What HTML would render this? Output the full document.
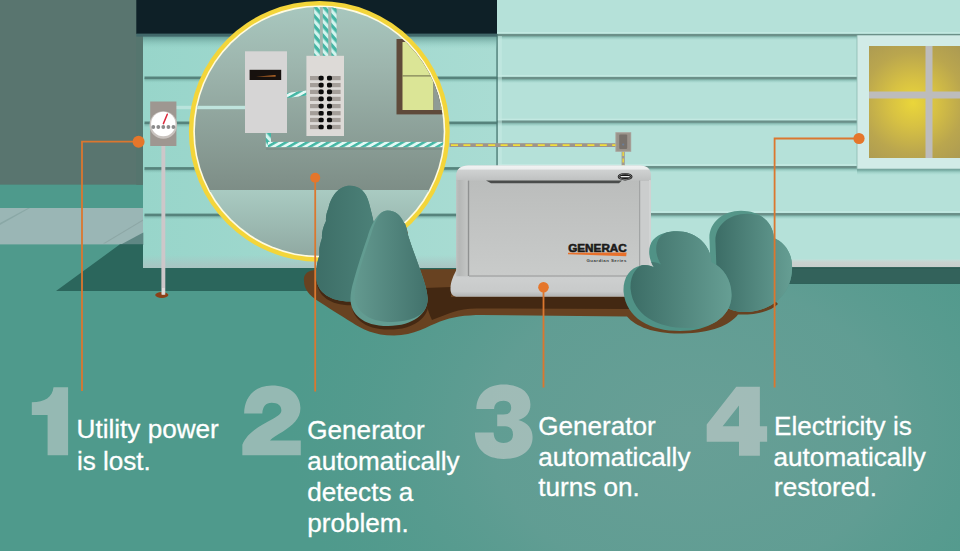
<!DOCTYPE html>
<html>
<head>
<meta charset="utf-8">
<title>How a home standby generator works</title>
<style>
html,body{margin:0;padding:0;background:#4f9a8c;}
body{width:960px;height:551px;overflow:hidden;font-family:"Liberation Sans",sans-serif;}
svg{display:block;}
.t{font-family:"Liberation Sans",sans-serif;font-size:26.1px;fill:#ffffff;stroke:#ffffff;stroke-width:0.3px;}
.n{fill:#ebdfe3;fill-opacity:0.45;}
</style>
</head>
<body>
<svg width="960" height="551" viewBox="0 0 960 551">
<defs>
  <linearGradient id="sideShadow" x1="0" y1="0" x2="0" y2="1">
    <stop offset="0" stop-color="#5f8f88" stop-opacity="0.95"/>
    <stop offset="0.3" stop-color="#6fa59c" stop-opacity="0.6"/>
    <stop offset="1" stop-color="#8fcfc4" stop-opacity="0"/>
  </linearGradient>
  <linearGradient id="wallL" x1="0" y1="0" x2="1" y2="0">
    <stop offset="0" stop-color="#98d5ca"/>
    <stop offset="1" stop-color="#a9dcd3"/>
  </linearGradient>
  <radialGradient id="grassHi" cx="0" cy="0" r="1" gradientUnits="userSpaceOnUse" gradientTransform="translate(690 430) scale(400 300)">
    <stop offset="0" stop-color="#689f96" stop-opacity="1"/>
    <stop offset="0.5" stop-color="#659e95" stop-opacity="0.8"/>
    <stop offset="1" stop-color="#5a9a8f" stop-opacity="0"/>
  </radialGradient>
  <linearGradient id="circBg" x1="0" y1="0" x2="0" y2="1">
    <stop offset="0" stop-color="#a9c9c0"/>
    <stop offset="0.35" stop-color="#9db5ad"/>
    <stop offset="1" stop-color="#7d8d86"/>
  </linearGradient>
  <linearGradient id="circFloor" x1="0" y1="0" x2="0" y2="1">
    <stop offset="0" stop-color="#a9cbc2"/>
    <stop offset="1" stop-color="#8ea69f"/>
  </linearGradient>
  <radialGradient id="glass" cx="913" cy="103" r="78" gradientUnits="userSpaceOnUse">
    <stop offset="0" stop-color="#ead63a"/>
    <stop offset="0.3" stop-color="#d7c143"/>
    <stop offset="0.65" stop-color="#baa64e"/>
    <stop offset="1" stop-color="#a99853"/>
  </radialGradient>
  <linearGradient id="bushA" x1="0" y1="0" x2="1" y2="0">
    <stop offset="0" stop-color="#3c6d66"/>
    <stop offset="1" stop-color="#69a297"/>
  </linearGradient>
  <linearGradient id="bushB" x1="0" y1="0" x2="1" y2="0">
    <stop offset="0" stop-color="#63998f"/>
    <stop offset="1" stop-color="#40706a"/>
  </linearGradient>
  <linearGradient id="bushC" x1="0" y1="0" x2="1" y2="0">
    <stop offset="0" stop-color="#3d6e67"/>
    <stop offset="1" stop-color="#4f857c"/>
  </linearGradient>
  <pattern id="stripeV" width="20" height="6.6" patternUnits="userSpaceOnUse" patternTransform="rotate(48)">
    <rect width="20" height="6.6" fill="#d2f4ee"/>
    <rect width="20" height="3.3" fill="#43b6a4"/>
  </pattern>
  <pattern id="stripeH" width="20" height="5.3" patternUnits="userSpaceOnUse" patternTransform="rotate(-30)">
    <rect width="20" height="5.3" fill="#e4f9f5"/>
    <rect width="20" height="2.5" fill="#43b6a4"/>
  </pattern>
  <clipPath id="circClip"><circle cx="319.3" cy="131.4" r="124.4"/></clipPath>
</defs>

<!-- ===== background / sky / ground ===== -->
<rect x="0" y="0" width="960" height="551" fill="#4f9a8c"/>
<rect x="0" y="0" width="144" height="184.8" fill="#59756f"/>
<rect x="0" y="184.8" width="144" height="24" fill="#4e9a8c"/>
<rect x="0" y="208" width="144" height="36.4" fill="#9ab6b5"/>
<path d="M0 223 L28 208 L30 208 L0 225 Z" fill="#8aa8a6"/>
<rect x="0" y="0" width="960" height="551" fill="url(#grassHi)"/>

<!-- house wall -->
<rect x="143" y="0" width="817" height="268" fill="#a5dad0"/>
<rect x="143" y="0" width="354" height="268" fill="url(#wallL)"/>
<rect x="497" y="0" width="463" height="262" fill="#b5e1d9"/>

<!-- house cast shadow on lawn -->
<path d="M143.3 232.5 L143.3 245 L120 245 Z" fill="#5f8784"/>
<path d="M103 243.6 L143 219.6 L143 220.8 L105 243.6 Z" fill="#8da7a6"/>
<path d="M120 244.3 L143 244.3 L143 268 L960 268 L960 284 L620 284 L620 291 L56 291 Z" fill="#2b665c"/>
<!-- foundation strip right -->
<linearGradient id="fndR" x1="0" y1="0" x2="0" y2="1"><stop offset="0" stop-color="#bfdfd9"/><stop offset="0.35" stop-color="#c9d2cf"/><stop offset="1" stop-color="#c8cdcb"/></linearGradient>
<rect x="620" y="259.3" width="340" height="8.1" fill="url(#fndR)"/>
<rect x="620" y="267.3" width="340" height="16.4" fill="#33625b"/>
<rect x="620" y="267.3" width="340" height="1.2" fill="#2a5750"/>
<linearGradient id="wallBot" x1="0" y1="0" x2="0" y2="1"><stop offset="0" stop-color="#a9c4c2" stop-opacity="0"/><stop offset="1" stop-color="#a9c4c2" stop-opacity="1"/></linearGradient>
<rect x="143" y="255" width="354" height="13" fill="url(#wallBot)"/>

<!-- siding -->
<g id="siding">
  <g><rect x="144.5" y="78.4" width="352.5" height="4.6" fill="url(#sideShadow)"/><rect x="144.5" y="76.5" width="352.5" height="2.5" fill="#56837c"/></g>
  <g><rect x="144.5" y="123.4" width="352.5" height="4.6" fill="url(#sideShadow)"/><rect x="144.5" y="121.5" width="352.5" height="2.5" fill="#56837c"/></g>
  <g><rect x="144.5" y="168.9" width="352.5" height="4.6" fill="url(#sideShadow)"/><rect x="144.5" y="167.1" width="352.5" height="2.5" fill="#56837c"/></g>
  <g><rect x="144.5" y="215.4" width="352.5" height="4.6" fill="url(#sideShadow)"/><rect x="144.5" y="213.6" width="352.5" height="2.5" fill="#56837c"/></g>
  <g><rect x="497" y="75.0" width="463" height="1.6" fill="#c9ede6" opacity="0.7"/><rect x="497" y="78.6" width="463" height="4.6" fill="url(#sideShadow)"/><rect x="497" y="76.9" width="463" height="2.2" fill="#6b9089"/></g>
  <g><rect x="497" y="118.6" width="463" height="1.6" fill="#c9ede6" opacity="0.7"/><rect x="497" y="122.2" width="463" height="4.6" fill="url(#sideShadow)"/><rect x="497" y="120.5" width="463" height="2.2" fill="#6b9089"/></g>
  <g><rect x="497" y="164.1" width="463" height="1.6" fill="#c9ede6" opacity="0.7"/><rect x="497" y="167.7" width="463" height="4.6" fill="url(#sideShadow)"/><rect x="497" y="166.0" width="463" height="2.2" fill="#6b9089"/></g>
  <g><rect x="497" y="211.1" width="463" height="1.6" fill="#c9ede6" opacity="0.7"/><rect x="497" y="214.7" width="463" height="4.6" fill="url(#sideShadow)"/><rect x="497" y="213.0" width="463" height="2.2" fill="#6b9089"/></g>
  <g><rect x="497" y="32.0" width="463" height="1.6" fill="#c9ede6" opacity="0.7"/><rect x="497" y="35.6" width="463" height="4.6" fill="url(#sideShadow)"/><rect x="497" y="33.9" width="463" height="2.2" fill="#6b9089"/></g>
</g>
<!-- corner line -->
<rect x="497.7" y="36" width="4.2" height="130" fill="#c6ebe4" opacity="0.55"/>
<rect x="496.4" y="34" width="1.3" height="132" fill="#467570"/>

<!-- roof -->
<rect x="136.3" y="0" width="360.7" height="34" fill="#0e2027"/>
<rect x="136.3" y="34" width="6.7" height="150.8" fill="#55756e"/>
<linearGradient id="roofSh" x1="0" y1="0" x2="0" y2="1">
  <stop offset="0" stop-color="#4f8580" stop-opacity="0.75"/>
  <stop offset="0.5" stop-color="#6fa8a0" stop-opacity="0.35"/>
  <stop offset="1" stop-color="#8fcfc4" stop-opacity="0"/>
</linearGradient>
<rect x="143" y="36" width="354" height="13" fill="url(#roofSh)"/>
<rect x="136.3" y="33.6" width="360.7" height="3" fill="#41686a"/>

<!-- right window -->
<g id="win">
  <rect x="857" y="169" width="103" height="6" fill="url(#sideShadow)"/>
  <rect x="856.6" y="35.4" width="103.4" height="134" fill="#8db8b1"/>
  <rect x="857.4" y="35.4" width="102.6" height="133.2" fill="#d1ebe7"/>
  <rect x="869" y="46" width="91" height="112" fill="url(#glass)"/>
  <rect x="925.5" y="46" width="7" height="112" fill="#bdbcbc"/>
  <rect x="869" y="91.5" width="91" height="7" fill="#bdbcbc"/>
</g>

<!-- utility meter + pole -->
<g id="meter">
  <ellipse cx="161.8" cy="295" rx="6.6" ry="2.9" fill="#8c4018"/>
  <rect x="161.4" y="146" width="3.9" height="148.6" fill="#cdc7c9"/>
  <rect x="162" y="288" width="2.8" height="6.6" fill="#e2dcdc"/>
  <rect x="176" y="105.8" width="20" height="3.4" fill="#b9e3dc"/>
  <rect x="150.2" y="101.5" width="26.2" height="44.5" fill="#9e9791"/>
  <circle cx="163.3" cy="125" r="13.8" fill="#c9c3bf"/>
  <circle cx="163.3" cy="124" r="12.2" fill="#ffffff"/>
  <g fill="#8b8b8b">
    <circle cx="153.3" cy="127" r="1.9"/><circle cx="158.3" cy="127" r="1.9"/><circle cx="163.3" cy="127" r="1.9"/><circle cx="168.4" cy="127" r="1.9"/><circle cx="173.4" cy="127" r="1.9"/>
  </g>
  <path d="M163.4 123.6 L167.3 114.2" stroke="#dd2a3c" stroke-width="1.5" stroke-linecap="round" fill="none"/>
</g>

<!-- magnifier circle -->
<g id="mag">
  <circle cx="319.3" cy="131.4" r="130.4" fill="#f3d53a"/>
  <circle cx="319.3" cy="131.4" r="126" fill="#fffbe0"/>
  <g clip-path="url(#circClip)">
    <rect x="190" y="0" width="260" height="192" fill="url(#circBg)"/>
    <rect x="190" y="190" width="260" height="72" fill="url(#circFloor)"/>
    <!-- service wire from meter -->
    <rect x="190" y="105.8" width="56" height="3.4" fill="#bfe4dd"/>
    <!-- three feed wires -->
    <rect x="313.2" y="0" width="24" height="56" fill="#a3b6af"/>
    <rect x="314.2" y="0" width="5.6" height="56" fill="url(#stripeV)"/>
    <rect x="322.8" y="0" width="5.4" height="56" fill="url(#stripeV)"/>
    <rect x="331.4" y="0" width="5.2" height="56" fill="url(#stripeV)"/>
    <!-- link wire switch -> panel -->
    <path d="M287 95.6 L306.5 93" stroke="url(#stripeH)" stroke-width="5" fill="none"/>
    <!-- generator feed wire -->
    <rect x="265.8" y="131" width="5.2" height="16" fill="url(#stripeV)"/>
    <rect x="268" y="141.9" width="190" height="5.2" fill="url(#stripeH)"/>
    <rect x="266" y="148.2" width="190" height="1.6" fill="#74857f" opacity="0.55"/>
    <!-- transfer switch -->
    <rect x="245" y="51.3" width="42" height="81.7" fill="#d6d5d5"/>
    <rect x="249.6" y="69.8" width="31.6" height="10.2" fill="#17110e"/>
    <path d="M256 76.4 L275.6 75.2 L275.6 76.6 Z" fill="#e8822e"/>
    <!-- breaker panel -->
    <rect x="306.4" y="55.8" width="37.6" height="80.2" fill="#dddad7"/>
    <g id="brk">
      <rect x="310" y="76.0" width="13.6" height="4.2" fill="#a49e99"/><rect x="327" y="76.0" width="13.6" height="4.2" fill="#a49e99"/>
      <rect x="318.6" y="75.8" width="5" height="4.6" rx="1.6" fill="#0b0b0b"/><rect x="327" y="75.8" width="5" height="4.6" rx="1.6" fill="#0b0b0b"/>
      <rect x="310" y="83.0" width="13.6" height="4.2" fill="#a49e99"/><rect x="327" y="83.0" width="13.6" height="4.2" fill="#a49e99"/>
      <rect x="318.6" y="82.8" width="5" height="4.6" rx="1.6" fill="#0b0b0b"/><rect x="327" y="82.8" width="5" height="4.6" rx="1.6" fill="#0b0b0b"/>
      <rect x="310" y="89.8" width="13.6" height="4.2" fill="#a49e99"/><rect x="327" y="89.8" width="13.6" height="4.2" fill="#a49e99"/>
      <rect x="318.6" y="89.6" width="5" height="4.6" rx="1.6" fill="#0b0b0b"/><rect x="327" y="89.6" width="5" height="4.6" rx="1.6" fill="#0b0b0b"/>
      <rect x="310" y="96.8" width="13.6" height="4.2" fill="#a49e99"/><rect x="327" y="96.8" width="13.6" height="4.2" fill="#a49e99"/>
      <rect x="318.6" y="96.6" width="5" height="4.6" rx="1.6" fill="#0b0b0b"/><rect x="327" y="96.6" width="5" height="4.6" rx="1.6" fill="#0b0b0b"/>
      <rect x="310" y="104.0" width="13.6" height="4.2" fill="#a49e99"/><rect x="327" y="104.0" width="13.6" height="4.2" fill="#a49e99"/>
      <rect x="318.6" y="103.8" width="5" height="4.6" rx="1.6" fill="#0b0b0b"/><rect x="327" y="103.8" width="5" height="4.6" rx="1.6" fill="#0b0b0b"/>
      <rect x="310" y="111.1" width="13.6" height="4.2" fill="#a49e99"/><rect x="327" y="111.1" width="13.6" height="4.2" fill="#a49e99"/>
      <rect x="318.6" y="110.9" width="5" height="4.6" rx="1.6" fill="#0b0b0b"/><rect x="327" y="110.9" width="5" height="4.6" rx="1.6" fill="#0b0b0b"/>
      <rect x="310" y="117.9" width="13.6" height="4.2" fill="#a49e99"/><rect x="327" y="117.9" width="13.6" height="4.2" fill="#a49e99"/>
      <rect x="318.6" y="117.7" width="5" height="4.6" rx="1.6" fill="#0b0b0b"/><rect x="327" y="117.7" width="5" height="4.6" rx="1.6" fill="#0b0b0b"/>
      <rect x="310" y="124.9" width="13.6" height="4.2" fill="#a49e99"/><rect x="327" y="124.9" width="13.6" height="4.2" fill="#a49e99"/>
      <rect x="318.6" y="124.7" width="5" height="4.6" rx="1.6" fill="#0b0b0b"/><rect x="327" y="124.7" width="5" height="4.6" rx="1.6" fill="#0b0b0b"/>
    </g>
    <!-- window seen in magnifier -->
    <rect x="396.5" y="39" width="60" height="75.4" fill="#5f4a3a"/>
    <rect x="402.5" y="42" width="31" height="68" fill="#dbe596"/>
    <rect x="433.5" y="42" width="7" height="68" fill="#8f9b95"/>
    <rect x="440.5" y="42" width="16" height="68" fill="#dbe596"/>
    <rect x="402.5" y="75.4" width="54" height="1" fill="#6b6a4a"/>
  </g>
</g>

<!-- conduit from house to generator -->
<g id="conduit">
  <rect x="449.6" y="143.2" width="166" height="3.8" fill="#9c958d"/>
  <path d="M451 145.1 H616" stroke="#f2de3a" stroke-width="1.9" stroke-dasharray="7 5.4" fill="none"/>
  <rect x="621.6" y="151.5" width="3.2" height="15.5" fill="#a29b8f"/>
  <path d="M623.2 152 V167" stroke="#e9d743" stroke-width="1.5" stroke-dasharray="4 2.5" fill="none"/>
  <rect x="615.4" y="132.2" width="15.8" height="19.6" fill="#a8a199"/>
  <rect x="616.4" y="133.2" width="13.8" height="17.6" fill="#9a938b"/>
  <rect x="619.2" y="134.6" width="8" height="14.4" rx="1" fill="#77716b"/>
  <circle cx="623.2" cy="144.5" r="1.1" fill="#6b7f9a"/>
</g>

<!-- mulch bed -->
<g id="mulch">
  <path d="M304 281 C303 274 308 270.5 316 270 L470 269 L640 268 L760 285 L778 304 C770 312 755 315 738 314.5 C730 325 712 333 682 333.5 C655 334 636 327 627 316.5 L482 315 C465 315 452 317 440 321.5 C428 326 414 335.5 394 335.5 C374 335.5 362 329 352 322.5 C340 315 327 307 318 301 C309 295 304 289 304 281 Z" fill="#684221"/>
  <path d="M424 288 L452 287 L451 297 L652 297 L652 300 L630 309 L476 308.5 C458 308.5 448 314 432 320 C428 312 425 300 424 288 Z" fill="#432812"/>
  <use href="#pA" transform="translate(0.5 3.8)" fill="#452913"/>
  <use href="#pB" transform="translate(1 3.6)" fill="#452913"/>
</g>

<!-- generator -->
<g id="gen">
  <linearGradient id="genLid" x1="0" y1="0" x2="0" y2="1">
    <stop offset="0" stop-color="#f1f3f3"/>
    <stop offset="0.22" stop-color="#eceeee"/>
    <stop offset="0.3" stop-color="#cfd1d1"/>
    <stop offset="1" stop-color="#bec0c0"/>
  </linearGradient>
  <linearGradient id="genBase" x1="0" y1="0" x2="0" y2="1">
    <stop offset="0" stop-color="#c4c6c6"/>
    <stop offset="0.3" stop-color="#cdcfcf"/>
    <stop offset="0.8" stop-color="#c8caca"/>
    <stop offset="1" stop-color="#b0b2b2"/>
  </linearGradient>
  <linearGradient id="genSide" x1="0" y1="0" x2="1" y2="0">
    <stop offset="0" stop-color="#bcbebd"/>
    <stop offset="0.25" stop-color="#b5b7b6"/>
    <stop offset="1" stop-color="#c5c7c6"/>
  </linearGradient>
  <!-- base skirt -->
  <path d="M456.3 270 H651 C654 272 657 279 657 286 V290 C657 294 654 296.8 650 296.8 H458 C453 296.8 450.5 294 450.5 289 C450.5 281 454 275 456.3 270 Z" fill="url(#genBase)"/>
  <!-- body -->
  <path d="M456.3 277 V176 C456.3 169 461 165.6 468 165.6 H640 C647 165.6 650.8 169 650.8 176 V276 Z" fill="#c7c9c9"/>
  <path d="M456.3 181 V176 C456.3 169 461 165.6 468 165.6 H640 C647 165.6 650.8 169 650.8 176 V181 Z" fill="url(#genLid)"/>
  <rect x="639.4" y="181" width="11.4" height="95" fill="#cbcdcd"/><rect x="649" y="180" width="1.8" height="96" fill="#d2d4d4"/>
  <rect x="456.3" y="180" width="12" height="96" fill="url(#genSide)"/>
  <!-- front panel -->
  <linearGradient id="genPanel" x1="0" y1="0" x2="0" y2="1"><stop offset="0" stop-color="#bbbdbc"/><stop offset="1" stop-color="#c9cbca"/></linearGradient>
  <rect x="469" y="180.6" width="170.4" height="95.4" fill="url(#genPanel)"/>
  <rect x="467.8" y="180.6" width="1.4" height="95.4" fill="#8f9191"/><rect x="639.2" y="180.6" width="1" height="95.4" fill="#9a9c9c"/>
  <rect x="469" y="275.4" width="170.4" height="1.2" fill="#9fa1a1"/>
  <path d="M486 180.4 H622 L619 183.2 H491 Z" fill="#4a4c4b"/>
  <!-- badge -->
  <ellipse cx="625.1" cy="176.7" rx="7.4" ry="3.7" fill="#151515"/>
  <ellipse cx="625.1" cy="176.7" rx="6.2" ry="2.8" fill="none" stroke="#d9d9d9" stroke-width="0.5"/>
  <rect x="620.6" y="176" width="9" height="1.3" fill="#e8e8e8"/>
  <!-- logo -->
  <text x="568.2" y="251.6" font-family="Liberation Sans, sans-serif" font-weight="bold" font-size="10.6" textLength="58.6" lengthAdjust="spacingAndGlyphs" fill="#1c1a19" stroke="#1c1a19" stroke-width="0.55">GENERAC</text>
  <path d="M568 252.8 L626.6 252.6 L626.2 256.2 L568 254.2 Z" fill="#e8702a"/>
  <text x="586.4" y="262.4" font-family="Liberation Sans, sans-serif" font-weight="bold" font-size="4.4" textLength="40" lengthAdjust="spacing" fill="#3a3a3a">Guardian Series</text>
</g>
<!-- shrubs -->
<g id="shrubs">
  <clipPath id="cA"><path id="pA" d="M350 185.8 C360 185.8 366 192 369 203 C374 222 380 250 384 275 C386 290 380 301 352 301.5 C330 302 318 292 316.5 280 C315.5 270 317 262 319.5 255 C318.5 250 320 244 322 238 C321.5 232 323.5 226 326 221 C325.5 216 327 212 328.5 208 C331 196 339 185.8 350 185.8 Z"/></clipPath>
  <clipPath id="cB"><path id="pB" d="M387.5 210.5 C396 210.5 401 216 403.5 222 C406 224 406.5 228 407 232 C411 245 415 255 418.5 265 C423 278 427 288 427.6 298 C428.5 312 415 326 388 326 C362 326 350 313 350.5 298 C351 289 353 283 355 276 C359 262 363 250 367.5 237 C371 225 378 210.5 387.5 210.5 Z"/></clipPath>
  <clipPath id="cC"><path id="pC" d="M623.6 293 C622.5 279 629 268 641 265.5 C646 264.5 651 265.5 654 267.5 C648 258 647.5 247 653 240 C659 233.5 668 231.3 677 231.3 C697 231.3 711 246 711.5 262 C724 268 732 281 731.5 296 C731 318 708 331 680 331 C650 331 626 318 623.6 292 Z"/></clipPath>
  <clipPath id="cD"><path id="pD" d="M709.5 240 C708 224 722 210.8 741 210.8 C760 210.8 773 222 774 238 C786 243 793 255 792 270 C791 292 775 310 748 312 C725 313 712 300 711 280 Z"/></clipPath>
  <!-- back cone -->
  <use href="#pA" fill="#4b8077"/>
  <g clip-path="url(#cA)"><rect x="316" y="185" width="72" height="120" fill="url(#bushC)"/></g>
  <!-- back cloud -->
  <use href="#pD" fill="#559689"/>
  <g clip-path="url(#cD)"><use href="#pD" transform="translate(6 3)" fill="url(#bushA)"/></g>
  <!-- front cone -->
  <use href="#pB" fill="#629c91"/>
  <g clip-path="url(#cB)"><use href="#pB" transform="translate(4 -4)" fill="url(#bushB)"/></g>
  <!-- front cloud -->
  <use href="#pC" fill="#509286"/>
  <g clip-path="url(#cC)"><use href="#pC" transform="translate(7 -3)" fill="url(#bushA)"/></g>
</g>
<!-- callout leaders -->
<g id="leaders" fill="none" stroke="#db772f" stroke-width="1.8">
  <path d="M138.6 141.7 H82 V391"/>
  <path d="M315.2 177.7 V391.5"/>
  <path d="M543.5 287.2 V387.5"/>
  <path d="M859 138.5 H774.6 V387.5"/>
</g>
<g id="dots" fill="#e5762b">
  <circle cx="138.6" cy="141.7" r="6"/>
  <circle cx="315.2" cy="177.7" r="5"/>
  <circle cx="543.5" cy="287.2" r="5.3"/>
  <circle cx="859" cy="138.5" r="5.6"/>
</g>

<!-- big numerals -->
<g id="nums" class="n">
  <path d="M68.1 387.3 H53.5 C52.5 397 45 402.3 31.8 402.3 V415 H47.6 V455.3 H68.1 Z"/>
  <path transform="translate(230 370) scale(0.1815)" d="M68 470 L68 412 C95 345 160 310 235 270 C270 250 283 240 283 222 C283 195 262 180 230 180 C197 180 180 200 178 240 L78 240 C78 150 135 85 230 85 C330 85 388 135 388 210 C388 270 345 305 290 340 C260 358 235 372 220 388 L390 388 L390 470 Z"/>
  <path transform="translate(460 370) scale(0.1815)" d="M90 215 C92 130 150 80 240 80 C335 80 388 125 388 190 C388 235 365 262 322 275 C375 290 400 325 400 370 C400 445 335 490 240 490 C145 490 84 440 82 345 L185 345 C187 385 205 402 240 402 C272 402 292 385 292 355 C292 322 272 310 240 310 L205 310 L205 245 L240 245 C268 245 282 232 282 208 C282 183 266 170 240 170 C208 170 190 185 188 215 Z"/>
  <path transform="translate(690 370) scale(0.1815)" fill-rule="evenodd" d="M255 92 L385 92 L385 310 L425 310 L425 395 L385 395 L385 472 L270 472 L270 395 L92 395 L92 300 Z M270 195 L180 310 L270 310 Z"/>
</g>

<!-- captions -->
<g id="captions" class="t">
  <text x="76.6" y="438.4">Utility power</text>
  <text x="76.9" y="469.8">is lost.</text>
  <text x="307.3" y="438.8">Generator</text>
  <text x="307.3" y="469.6">automatically</text>
  <text x="307.3" y="500.5">detects a</text>
  <text x="307.3" y="531.5">problem.</text>
  <text x="538.2" y="434.6">Generator</text>
  <text x="538.2" y="465.5">automatically</text>
  <text x="538.2" y="496.4">turns on.</text>
  <text x="774" y="434.6">Electricity is</text>
  <text x="773.6" y="465.5">automatically</text>
  <text x="774" y="496.4">restored.</text>
</g>
</svg>
</body>
</html>
